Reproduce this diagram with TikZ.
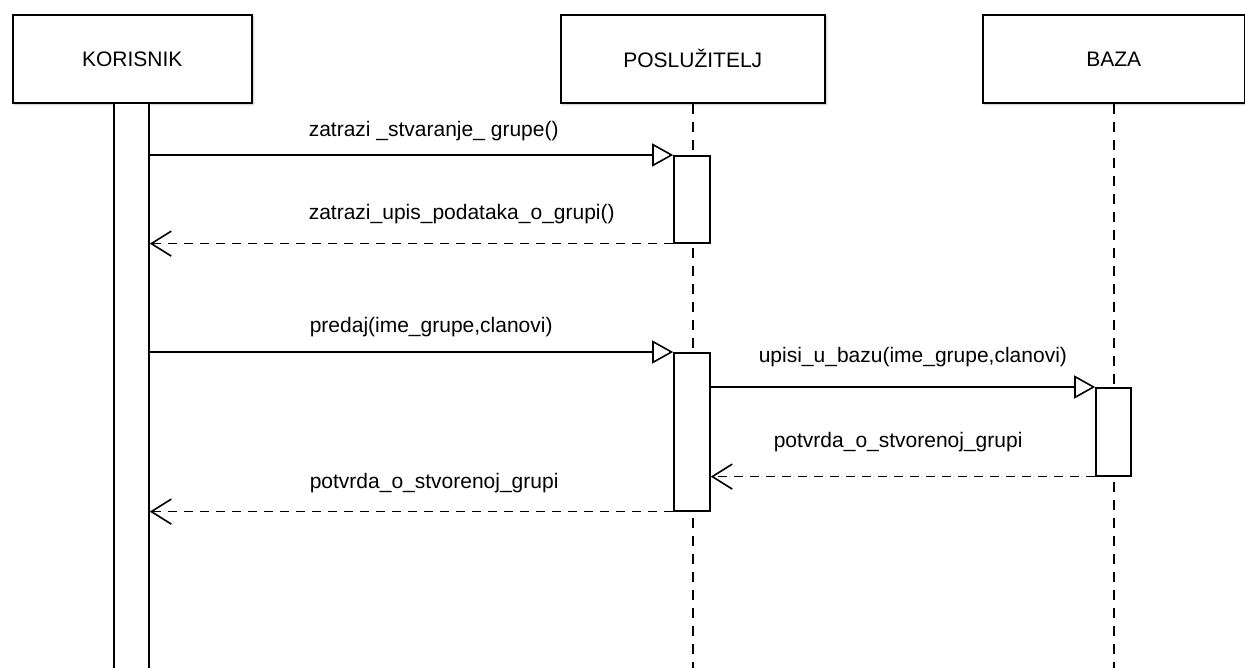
\documentclass[tikz,border=0pt]{standalone}
\usepackage{fontspec}
\setmainfont{Liberation Sans}
\usetikzlibrary{arrows.meta,positioning,shadows.blur}

\begin{document}
\begin{tikzpicture}[
    x=1pt, y=-1pt,
    font=\fontsize{21}{24}\selectfont,
    line width=1.6pt,
    actorBox/.style={
        rectangle, draw, fill=white,
        minimum height=88pt, inner sep=0pt,
        anchor=north west,
        blur shadow={shadow xshift=1.5pt, shadow yshift=-1.5pt,
                     shadow blur steps=4, shadow opacity=25}
    },
    barBox/.style={
        rectangle, draw, fill=white,
        minimum width=36pt, inner sep=0pt,
        anchor=north
    },
    lifeLine/.style={dash pattern=on 10pt off 8pt},
    msgLabel/.style={anchor=base west, inner sep=0pt},
    callMsg/.style={-{Triangle[open, length=21pt, width=23pt]}},
    replyMsg/.style={dash pattern=on 9pt off 7pt,
                     -{Straight Barb[length=20pt, width=25pt]}}
]

\useasboundingbox (0,0) rectangle (1245,668);
\clip (0,0) rectangle (1245,668);

% participants
\node[actorBox, minimum width=239pt] (Korisnik) at (12,14) {KORISNIK};
\node[actorBox, minimum width=264pt] (Posluzitelj) at (560,14) {POSLUŽITELJ};
\node[actorBox, minimum width=262pt] (Baza) at (982,14) {BAZA};

\coordinate (PosEnd) at (Posluzitelj.south |- 0,700);
\coordinate (BazEnd) at (Baza.south |- 0,700);
\draw[lifeLine] (Posluzitelj.south) -- (PosEnd);
\draw[lifeLine] (Baza.south) -- (BazEnd);

% activation bars
\node[barBox, minimum width=35pt, minimum height=600pt] (KorBar) at (131.5,102) {};
\node[barBox, minimum height=87pt] (PosActA) at (692,155) {};
\node[barBox, minimum height=158pt] (PosActB) at (692,352) {};
\node[barBox, minimum width=35pt, minimum height=88pt] (BazAct) at (1113.5,387) {};

% messages
\draw[callMsg] (KorBar.east |- PosActA.north) -- (PosActA.north west);
\node[msgLabel] (LblCreate) at (308,137) {zatrazi \_stvaranje\_ grupe()};

\draw[replyMsg] (PosActA.south west) -- (KorBar.east |- PosActA.south);
\node[msgLabel] (LblAsk) at (308,220) {zatrazi\_upis\_podataka\_o\_grupi()};

\draw[callMsg] (KorBar.east |- PosActB.north) -- (PosActB.north west);
\node[msgLabel] (LblSend) at (309,333) {predaj(ime\_grupe,clanovi)};

\draw[callMsg] (PosActB.east |- BazAct.north) -- (BazAct.north west);
\node[msgLabel] (LblWrite) at (758,362) {upisi\_u\_bazu(ime\_grupe,clanovi)};

\draw[replyMsg] (BazAct.south west) -- (PosActB.east |- BazAct.south);
\node[msgLabel] (LblDbOk) at (773,447) {potvrda\_o\_stvorenoj\_grupi};

\draw[replyMsg] (PosActB.south west) -- (KorBar.east |- PosActB.south);
\node[msgLabel] (LblOk) at (309,488) {potvrda\_o\_stvorenoj\_grupi};

\end{tikzpicture}
\end{document}
